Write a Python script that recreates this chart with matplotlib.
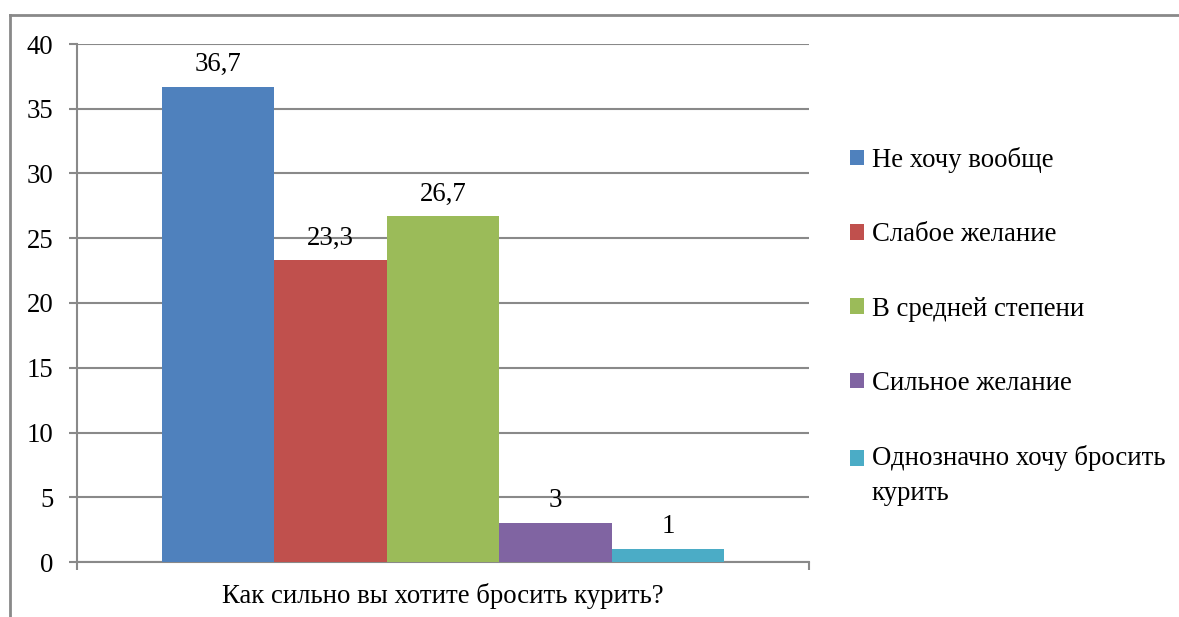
import matplotlib
matplotlib.use("Agg")
import matplotlib.pyplot as plt
from matplotlib.patches import Patch, Rectangle
from matplotlib.lines import Line2D
from matplotlib.legend_handler import HandlerPatch

plt.rcParams['font.family'] = ['Liberation Serif', 'DejaVu Serif']

category = "Как сильно вы хотите бросить курить?"
series = ["Не хочу вообще", "Слабое желание", "В средней степени",
          "Сильное желание", "Однозначно хочу бросить\nкурить"]
values = [36.7, 23.3, 26.7, 3, 1]
value_labels = ["36,7", "23,3", "26,7", "3", "1"]
colors = ["#4F81BD", "#C0504D", "#9BBB59", "#8064A2", "#4BACC6"]
yticks = [0, 5, 10, 15, 20, 25, 30, 35, 40]

FS = 19.3
W, H = 1179, 617
fig = plt.figure(figsize=(W / 100, H / 100), dpi=100)
ax = fig.add_axes([77 / W, 1 - 562 / H, (809 - 77) / W, (562 - 44) / H])

grey = "#898989"
bw = 0.768 / len(values)
for i, (v, c, lab) in enumerate(zip(values, colors, value_labels)):
    x = (i - (len(values) - 1) / 2) * bw
    ax.bar(x, v, width=bw, color=c, zorder=3)
    ax.annotate(lab, (x, v), xytext=(0, 7), textcoords="offset points",
                ha="center", va="bottom", fontsize=FS)

ax.set_xlim(-0.5, 0.5)
ax.set_ylim(0, 40)
ax.set_yticks(yticks)
ax.set_yticklabels([str(t) for t in yticks], fontsize=FS)
ax.yaxis.grid(True, color=grey, linewidth=1.5, zorder=0)
ax.set_xticks([-0.5, 0.5])
ax.set_xticklabels(["", ""])
ax.tick_params(axis="both", direction="out", length=6, width=1.5, color=grey)
ax.tick_params(axis="y", pad=11)
for s in ["top", "right"]:
    ax.spines[s].set_visible(False)
for s in ["left", "bottom"]:
    ax.spines[s].set_color(grey)
    ax.spines[s].set_linewidth(1.5)
ax.text(0.5, -0.04, category, transform=ax.transAxes, ha="center", va="top",
        fontsize=FS)


def make_square(dy):
    def f(legend, orig_handle, xdescent, ydescent, width, height, fontsize):
        return Rectangle((-xdescent, -ydescent + dy), width, height)
    return f


handles = [Patch(facecolor=c, edgecolor="none") for c in colors]
handler_map = {handles[-1]: HandlerPatch(patch_func=make_square(12.6))}
leg = fig.legend(handles, series, loc="upper left",
                 bbox_to_anchor=(850 / W, 1 - 147 / H), frameon=False,
                 fontsize=FS, handlelength=0.52, handleheight=0.52,
                 handletextpad=0.3, labelspacing=1.84, borderpad=0,
                 borderaxespad=0, handler_map=handler_map)
leg.get_texts()[-1].set_linespacing(1.5)

# outer frame (left and top edges)
fig.add_artist(Line2D([10 / W, 10 / W], [0, 1 - 15 / H], transform=fig.transFigure,
                      color=grey, linewidth=2))
fig.add_artist(Line2D([10 / W, 1], [1 - 15 / H, 1 - 15 / H], transform=fig.transFigure,
                      color=grey, linewidth=2))

fig.savefig("out.png", dpi=100)
